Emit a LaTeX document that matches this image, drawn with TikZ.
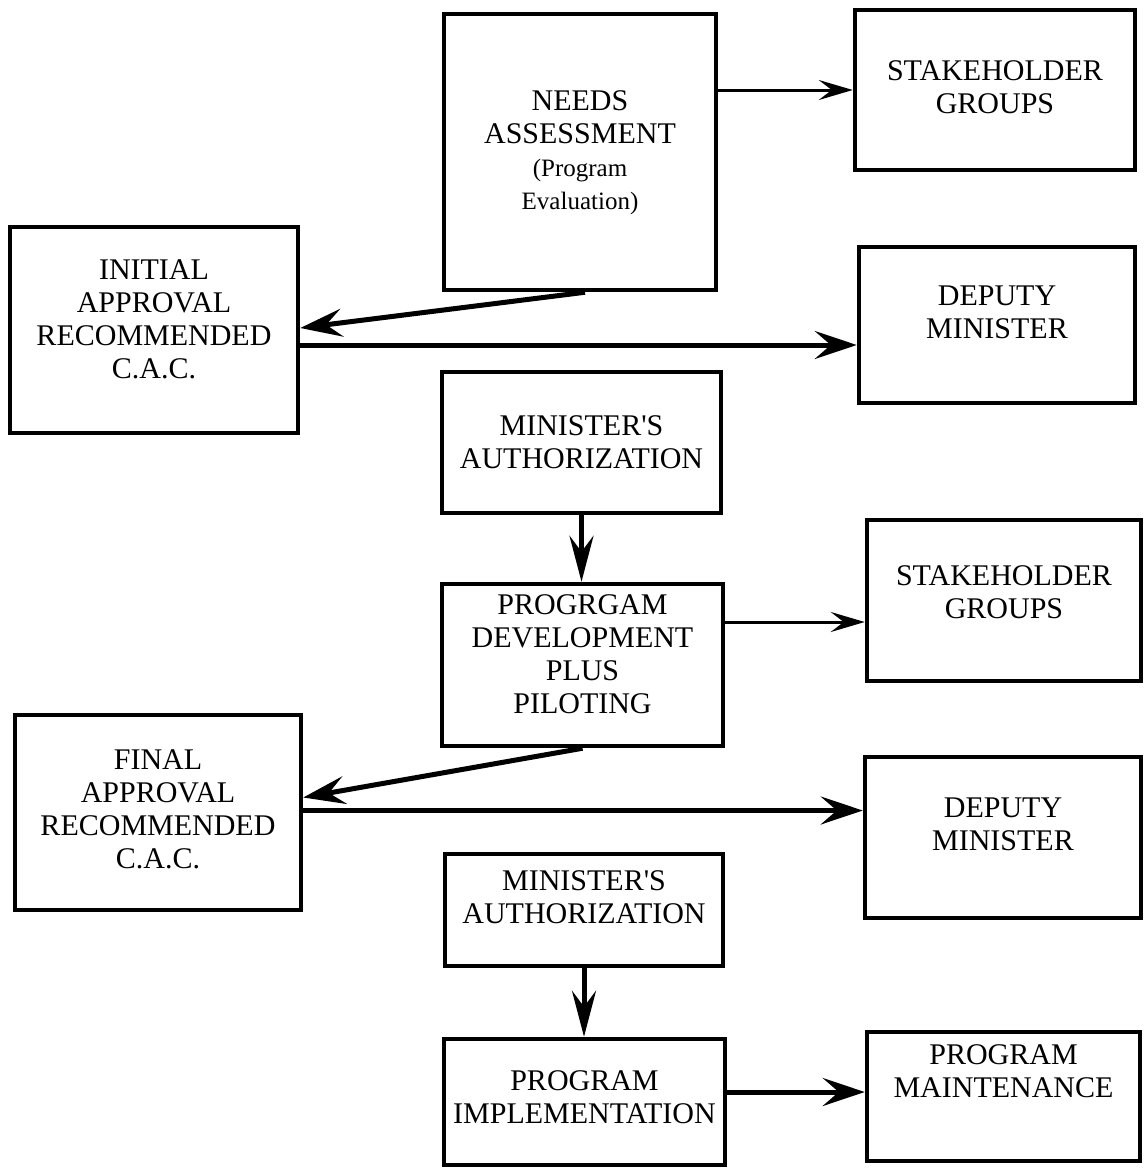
\documentclass[tikz,border=0pt]{standalone}
\usepackage{fontspec}
\setmainfont{Liberation Serif}
\usetikzlibrary{arrows.meta,calc}

% centred stack of lines, lifted by #1 without changing the box size
\newcommand{\boxlines}[2]{\raisebox{#1}[\height][\depth]{\begin{tabular}{@{}c@{}}#2\end{tabular}}}
\newcommand{\smalltext}{\fontsize{25}{29}\selectfont}

\begin{document}
\begin{tikzpicture}[x=1pt,y=-1pt,
  box/.style={draw, line width=4.5pt, inner sep=0pt, font=\fontsize{30}{33}\selectfont},
  bigarrow/.style={line width=5pt, -{Stealth[length=42pt,width=28pt,inset=16pt]}},
  thinarrow/.style={line width=3pt, -{Stealth[length=34pt,width=20pt,inset=13pt]}},
  downarrow/.style={line width=5pt, -{Stealth[length=46pt,width=24pt,inset=16pt]}}]
\useasboundingbox (0,0) rectangle (1146,1170);

% boxes
\node[box, minimum width=272pt, minimum height=276pt] (needs) at (580,152)
  {\boxlines{-1pt}{NEEDS\\ASSESSMENT\\\smalltext(Program\\\smalltext Evaluation)}};
\node[box, minimum width=280pt, minimum height=160pt] (stake1) at (995,90)
  {\boxlines{0pt}{STAKEHOLDER\\GROUPS}};
\node[box, minimum width=288pt, minimum height=206pt] (init) at (154,330)
  {\boxlines{8pt}{INITIAL\\APPROVAL\\RECOMMENDED\\C.A.C.}};
\node[box, minimum width=276pt, minimum height=156pt] (dep1) at (997,325)
  {\boxlines{10pt}{DEPUTY\\MINISTER}};
\node[box, minimum width=279pt, minimum height=141pt] (auth1) at (581.5,442.5)
  {\boxlines{-3pt}{MINISTER\textquotesingle S\\AUTHORIZATION}};
\node[box, minimum width=281pt, minimum height=162pt] (dev) at (582.5,665)
  {\boxlines{8pt}{PROGRGAM\\DEVELOPMENT\\PLUS\\PILOTING}};
\node[box, minimum width=274pt, minimum height=161pt] (stake2) at (1004,600.5)
  {\boxlines{5pt}{STAKEHOLDER\\GROUPS}};
\node[box, minimum width=286pt, minimum height=195pt] (final) at (158,812.5)
  {\boxlines{0pt}{FINAL\\APPROVAL\\RECOMMENDED\\C.A.C.}};
\node[box, minimum width=276pt, minimum height=161pt] (dep2) at (1003,837.5)
  {\boxlines{10pt}{DEPUTY\\MINISTER}};
\node[box, minimum width=278pt, minimum height=112pt] (auth2) at (584,910)
  {\boxlines{10pt}{MINISTER\textquotesingle S\\AUTHORIZATION}};
\node[box, minimum width=281pt, minimum height=126pt] (impl) at (584.5,1102)
  {\boxlines{2pt}{PROGRAM\\IMPLEMENTATION}};
\node[box, minimum width=273pt, minimum height=129pt] (maint) at (1003.5,1096.5)
  {\boxlines{22pt}{PROGRAM\\MAINTENANCE}};

% connectors
\draw[thinarrow] (needs.east |- stake1.west) -- (stake1.west);
\draw[bigarrow] ([xshift=5pt]needs.south) -- ([yshift=2pt]init.east);
\coordinate (i1) at ([yshift=-15pt]init.east);
\draw[bigarrow] (i1) -- (i1 -| dep1.west);
\draw[downarrow] (auth1.south) -- (auth1.south |- dev.north);
\coordinate (d1) at ([yshift=43pt]dev.east);
\draw[thinarrow] (d1) -- (d1 -| stake2.west);
\draw[bigarrow] (dev.south) -- ([yshift=15pt]final.east);
\coordinate (f1) at ([yshift=2pt]final.east);
\draw[bigarrow] (f1) -- (f1 -| dep2.west);
\draw[downarrow] (auth2.south) -- (auth2.south |- impl.north);
\coordinate (m1) at ([yshift=10pt]impl.east);
\draw[bigarrow] (m1) -- (m1 -| maint.west);
\end{tikzpicture}
\end{document}
